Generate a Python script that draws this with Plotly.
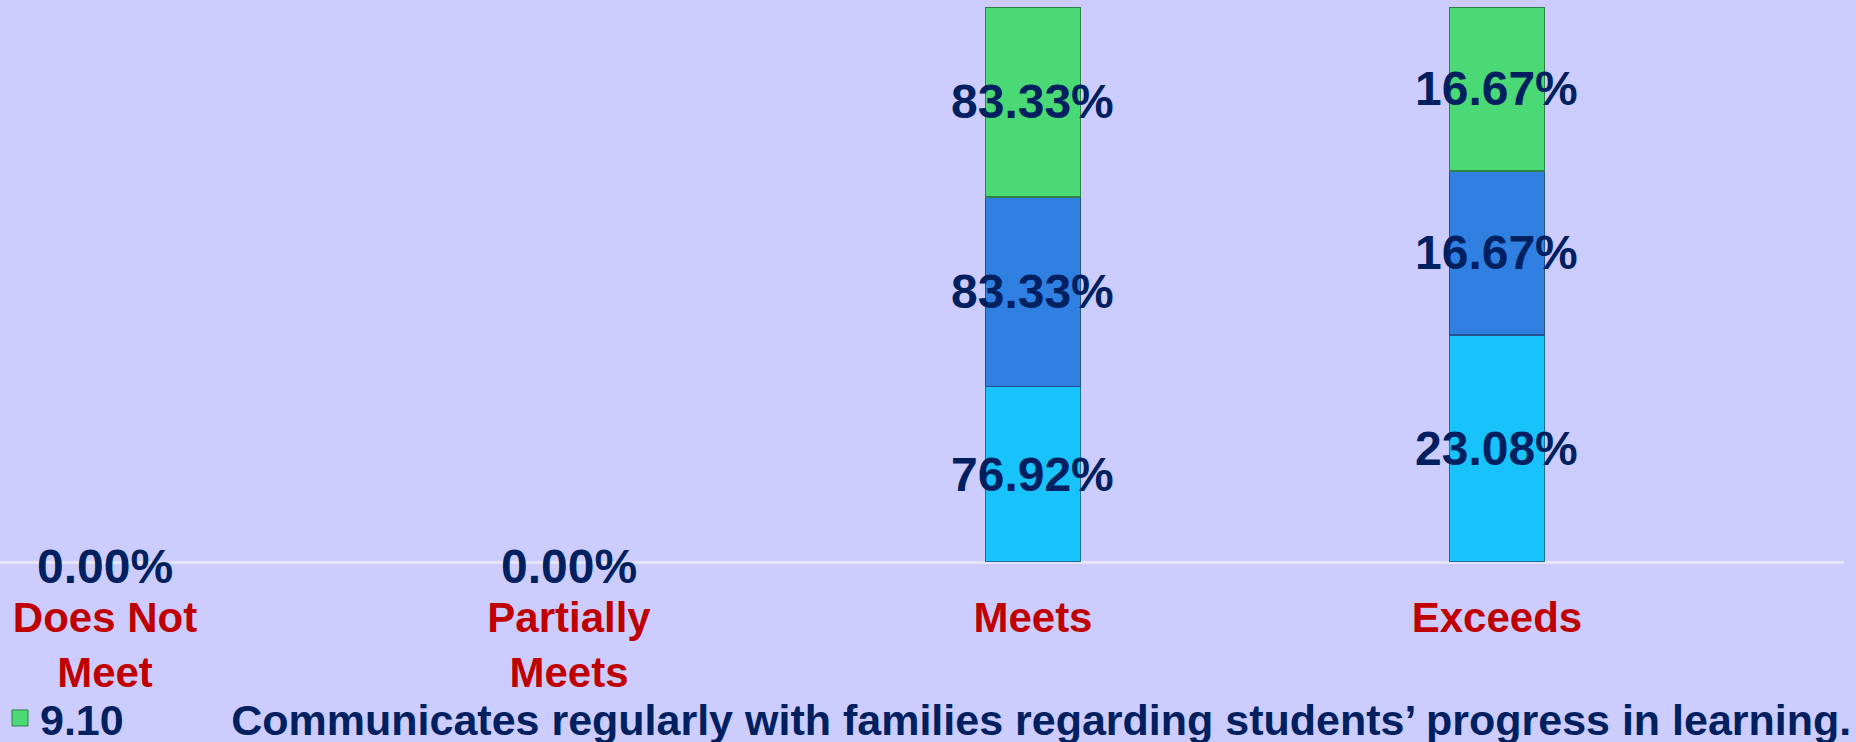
import plotly.graph_objects as go

categories = ["Does Not Meet", "Partially Meets", "Meets", "Exceeds"]
tick_labels = ["Does Not<br>Meet", "Partially<br>Meets", "Meets", "Exceeds"]
series_names = ["9.8", "9.9", "9.10"]
legend_label = "9.10\u00a0\u00a0\u00a0\u00a0\u00a0\u00a0\u00a0\u00a0 Communicates regularly with families regarding students\u2019 progress in learning."
s1_values = [0.0, 0.0, 76.92, 23.08]
s2_values = [0.0, 0.0, 83.33, 16.67]
s3_values = [0.0, 0.0, 83.33, 16.67]
colors = ["#17C3FA", "#3080E2", "#4BD975"]
edge = ["#1F6E96", "#23508E", "#2E7E48"]

series = [s1_values, s2_values, s3_values]
xpos = list(range(len(categories)))

FONT = "Arial Black, Liberation Sans, Arial, sans-serif"
NAVY = "#002060"
RED = "#C00000"

fig = go.Figure()
for name, vals, c, e in zip(series_names, series, colors, edge):
    fig.add_trace(go.Bar(
        x=xpos, y=vals, name=name, width=0.205,
        marker=dict(color=c, line=dict(color=e, width=1.5)),
        showlegend=False, hoverinfo="skip",
    ))

# legend entry (green series)
fig.add_trace(go.Scatter(
    x=[None], y=[None], mode="markers", name=legend_label,
    marker=dict(symbol="square", size=16, color=colors[2], line=dict(color=edge[2], width=1)),
    showlegend=True,
))

fig.update_layout(barmode="stack", barnorm="percent")

LABEL_FONT = dict(family=FONT, size=48, color=NAVY, weight="bold")

# data labels at stacked-segment centres (percent-normalized)
annotations = []
for i in xpos:
    total = sum(s[i] for s in series)
    if total == 0:
        annotations.append(dict(x=i, y=0, xref="x", yref="y", text=f"{0:.2f}%",
                                showarrow=False, yanchor="middle", yshift=-4,
                                font=LABEL_FONT))
        continue
    cum = 0.0
    for s in series:
        pct = s[i] / total * 100
        annotations.append(dict(x=i, y=cum + pct / 2, xref="x", yref="y",
                                text=f"{s[i]:.2f}%", showarrow=False, yanchor="middle",
                                font=LABEL_FONT))
        cum += pct

fig.update_layout(
    width=1856, height=742,
    paper_bgcolor="#CCCCFF", plot_bgcolor="#CCCCFF",
    margin=dict(l=0, r=12, t=7, b=180, autoexpand=False),
    annotations=annotations,
    xaxis=dict(range=[-0.2263, 3.748], tickvals=xpos, ticktext=tick_labels,
               showgrid=False, zeroline=False, showline=False, ticks="",
               ticklabelstandoff=27,
               tickfont=dict(family=FONT, size=42, color=RED, weight="bold")),
    yaxis=dict(range=[0, 100], showgrid=False, showticklabels=False, ticks="",
               zeroline=True, zerolinecolor="#E4E4F6", zerolinewidth=3, showline=False),
    legend=dict(xref="container", yref="container", x=0.0, y=1 - 718 / 742,
                xanchor="left", yanchor="middle", bgcolor="rgba(0,0,0,0)",
                itemsizing="trace",
                font=dict(family=FONT, size=43, color=NAVY, weight="bold")),
)

fig.write_html("out.html", config={"displayModeBar": False},
               post_script="document.body.style.margin='0';document.body.style.overflow='hidden';")
